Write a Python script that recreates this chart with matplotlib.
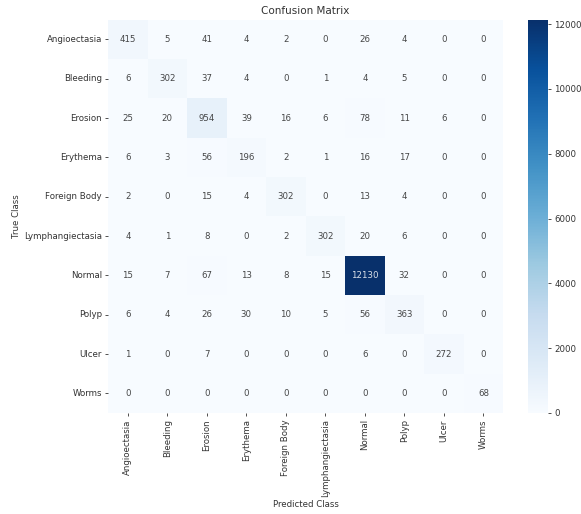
import matplotlib
matplotlib.use("Agg")
import matplotlib.pyplot as plt
import seaborn as sns
import numpy as np

classes = ["Angioectasia", "Bleeding", "Erosion", "Erythema", "Foreign Body",
           "Lymphangiectasia", "Normal", "Polyp", "Ulcer", "Worms"]
row_angioectasia = [415, 5, 41, 4, 2, 0, 26, 4, 0, 0]
row_bleeding = [6, 302, 37, 4, 0, 1, 4, 5, 0, 0]
row_erosion = [25, 20, 954, 39, 16, 6, 78, 11, 6, 0]
row_erythema = [6, 3, 56, 196, 2, 1, 16, 17, 0, 0]
row_foreign = [2, 0, 15, 4, 302, 0, 13, 4, 0, 0]
row_lymph = [4, 1, 8, 0, 2, 302, 20, 6, 0, 0]
row_normal = [15, 7, 67, 13, 8, 15, 12130, 32, 0, 0]
row_polyp = [6, 4, 26, 30, 10, 5, 56, 363, 0, 0]
row_ulcer = [1, 0, 7, 0, 0, 0, 6, 0, 272, 0]
row_worms = [0, 0, 0, 0, 0, 0, 0, 0, 0, 68]

cm = np.array([row_angioectasia, row_bleeding, row_erosion, row_erythema, row_foreign,
               row_lymph, row_normal, row_polyp, row_ulcer, row_worms])

fs = 6.2
fig = plt.figure(figsize=(5.81, 5.14), dpi=100)
ax = fig.add_axes([0.186, 0.1965, 0.680, 0.765])
cax = fig.add_axes([0.909, 0.1965, 0.034, 0.765])
sns.heatmap(cm, annot=True, fmt="d", cmap="Blues", ax=ax, cbar_ax=cax,
            xticklabels=classes, yticklabels=classes,
            annot_kws={"fontsize": fs, "alpha": 0.85})
ax.set_title("Confusion Matrix", fontsize=7.5, pad=4, color="#333333")
ax.set_xlabel("Predicted Class", fontsize=fs, labelpad=2, color="#333333")
ax.set_ylabel("True Class", fontsize=fs, labelpad=2, color="#333333")
ax.tick_params(axis="both", labelsize=fs, length=2.5, width=0.6, pad=2,
               colors="#333333")
plt.setp(ax.get_xticklabels(), rotation=90)
plt.setp(ax.get_yticklabels(), rotation=0)
cax.tick_params(labelsize=fs, length=2.5, width=0.6, pad=2, colors="#333333")
cax.set_yticks([0, 2000, 4000, 6000, 8000, 10000, 12000])
fig.savefig("out.png", dpi=100)
